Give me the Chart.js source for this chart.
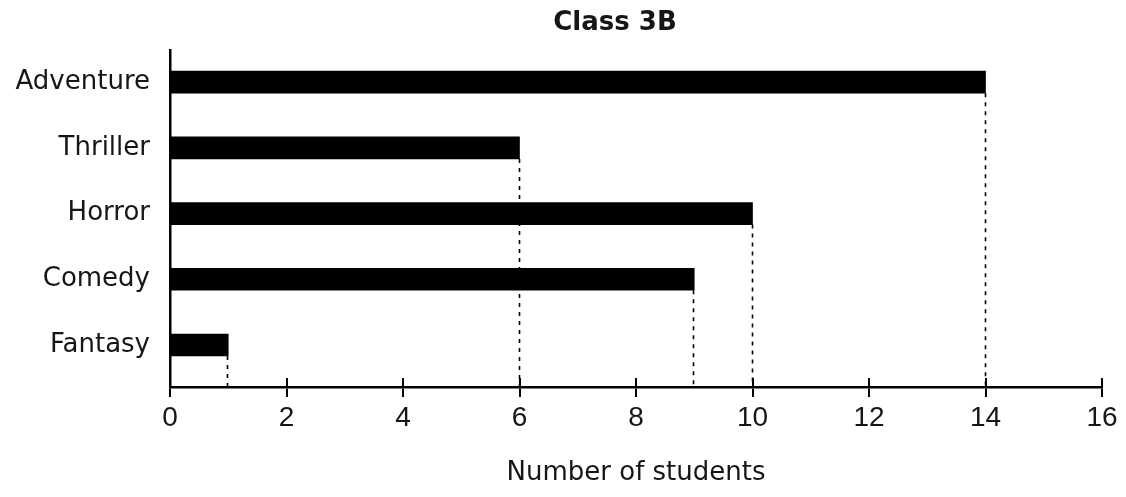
<!DOCTYPE html>
<html>
<head>
<meta charset="utf-8">
<script src="https://cdn.jsdelivr.net/npm/chart.js@4.4.1/dist/chart.umd.min.js"></script>
<style>
  html, body { margin: 0; padding: 0; background: #ffffff; }
  #wrap { width: 1126px; height: 497px; position: relative; }
</style>
</head>
<body>
<div id="wrap"><canvas id="c" width="1126" height="497"></canvas></div>
<script>
// ---- data ----
const chartTitle = "Class 3B";
const categories = ["Adventure", "Thriller", "Horror", "Comedy", "Fantasy"];
const students = [14, 6, 10, 9, 1];
const xTickValues = [0, 2, 4, 6, 8, 10, 12, 14, 16];
const xAxisTitle = "Number of students";

const TEXT = "#161616";

// title text drawn above the plot, slightly left of the plot centre as in the scan
const titlePlugin = {
  id: "titleText",
  afterDraw(chart) {
    const ctx = chart.ctx;
    ctx.save();
    ctx.fillStyle = TEXT;
    ctx.font = "bold 26px 'DejaVu Sans', sans-serif";
    ctx.textAlign = "center";
    ctx.textBaseline = "middle";
    ctx.fillText(chartTitle, 615, 23);
    ctx.restore();
  }
};

// dashed drop lines from bar ends to the x axis + tick marks crossing the axis
const dropLines = {
  id: "dropLines",
  afterDatasetsDraw(chart) {
    const ctx = chart.ctx;
    const area = chart.chartArea;
    const meta = chart.getDatasetMeta(0);
    ctx.save();
    ctx.strokeStyle = "#000";
    ctx.lineWidth = 1.6;
    ctx.setLineDash([4, 5]);
    meta.data.forEach(bar => {
      const x = Math.round(bar.x) - 0.5;
      ctx.beginPath();
      ctx.moveTo(x, bar.y + bar.height / 2);
      ctx.lineTo(x, area.bottom);
      ctx.stroke();
    });
    ctx.setLineDash([]);
    const xs = chart.scales.x;
    ctx.lineWidth = 2;
    xs.ticks.forEach(t => {
      if (t.value === 0) return;
      const px = Math.round(xs.getPixelForValue(t.value));
      ctx.beginPath();
      ctx.moveTo(px, area.bottom - 9);
      ctx.lineTo(px, area.bottom);
      ctx.stroke();
    });
    ctx.restore();
  }
};

new Chart(document.getElementById("c"), {
  type: "bar",
  data: {
    datasets: [{
      data: students.map((v, i) => ({ x: v, y: i })),
      backgroundColor: "#000000",
      borderWidth: 0,
      barThickness: 22
    }]
  },
  plugins: [dropLines, titlePlugin],
  options: {
    indexAxis: "y",
    responsive: false,
    animation: false,
    devicePixelRatio: 1,
    layout: { padding: { left: 0, right: 24, top: 50, bottom: 0 } },
    plugins: {
      legend: { display: false },
      tooltip: { enabled: false },
      title: { display: false }
    },
    scales: {
      x: {
        type: "linear",
        min: 0,
        max: 16,
        afterBuildTicks: s => { s.ticks = xTickValues.map(v => ({ value: v })); },
        afterFit: s => { s.height = 110; },
        border: { display: true, color: "#000", width: 2.5 },
        grid: {
          display: true,
          drawOnChartArea: false,
          drawTicks: true,
          tickLength: 10,
          color: "#000",
          lineWidth: 2
        },
        ticks: {
          color: TEXT,
          padding: 4,
          maxRotation: 0,
          font: { family: "'Liberation Sans', Arial, sans-serif", size: 28 }
        },
        title: {
          display: true,
          text: xAxisTitle,
          color: TEXT,
          font: { family: "'DejaVu Sans', sans-serif", size: 26 },
          padding: { top: 0, bottom: 8 }
        }
      },
      y: {
        type: "linear",
        reverse: true,
        offset: false,
        min: -0.49,
        max: 4.64,
        afterBuildTicks: s => { s.ticks = categories.map((_, i) => ({ value: i })); },
        afterFit: s => { s.width = 170; },
        border: { display: true, color: "#000", width: 2.5 },
        grid: { display: false, drawTicks: false },
        ticks: {
          color: TEXT,
          padding: 20,
          autoSkip: false,
          callback: v => categories[v] ?? "",
          font: { family: "'DejaVu Sans', sans-serif", size: 26 }
        }
      }
    }
  }
});
</script>
</body>
</html>
